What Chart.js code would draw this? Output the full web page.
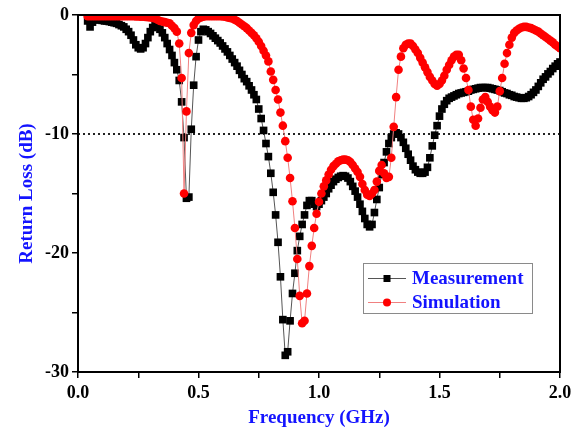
<!DOCTYPE html>
<html>
<head>
<meta charset="utf-8">
<script src="https://cdn.jsdelivr.net/npm/chart.js@4/dist/chart.umd.min.js"></script>
<style>
  html, body { margin: 0; padding: 0; background: #fff; }
  #wrap { width: 577px; height: 430px; }
</style>
</head>
<body>
<div id="wrap"><canvas id="c" width="577" height="430"></canvas></div>
<script>
// ---- data ----
const freqGHz = [
  0.04,0.05,0.06,0.07,0.08,0.09,
  0.10,0.11,0.12,0.13,0.14,0.15,0.16,0.17,0.18,0.19,
  0.20,0.21,0.22,0.23,0.24,0.25,0.26,0.27,0.28,0.29,
  0.30,0.31,0.32,0.33,0.34,0.35,0.36,0.37,0.38,0.39,
  0.40,0.41,0.42,0.43,0.44,0.45,0.46,0.47,0.48,0.49,
  0.50,0.51,0.52,0.53,0.54,0.55,0.56,0.57,0.58,0.59,
  0.60,0.61,0.62,0.63,0.64,0.65,0.66,0.67,0.68,0.69,
  0.70,0.71,0.72,0.73,0.74,0.75,0.76,0.77,0.78,0.79,
  0.80,0.81,0.82,0.83,0.84,0.85,0.86,0.87,0.88,0.89,
  0.90,0.91,0.92,0.93,0.94,0.95,0.96,0.97,0.98,0.99,
  1.00,1.01,1.02,1.03,1.04,1.05,1.06,1.07,1.08,1.09,
  1.10,1.11,1.12,1.13,1.14,1.15,1.16,1.17,1.18,1.19,
  1.20,1.21,1.22,1.23,1.24,1.25,1.26,1.27,1.28,1.29,
  1.30,1.31,1.32,1.33,1.34,1.35,1.36,1.37,1.38,1.39,
  1.40,1.41,1.42,1.43,1.44,1.45,1.46,1.47,1.48,1.49,
  1.50,1.51,1.52,1.53,1.54,1.55,1.56,1.57,1.58,1.59,
  1.60,1.61,1.62,1.63,1.64,1.65,1.66,1.67,1.68,1.69,
  1.70,1.71,1.72,1.73,1.74,1.75,1.76,1.77,1.78,1.79,
  1.80,1.81,1.82,1.83,1.84,1.85,1.86,1.87,1.88,1.89,
  1.90,1.91,1.92,1.93,1.94,1.95,1.96,1.97,1.98,1.99,
  2.00
];

const measurementDB = [
  -0.5,-1.0,-0.6,-0.4,-0.4,-0.4,
  -0.45,-0.5,-0.5,-0.55,-0.6,-0.65,-0.7,-0.8,-0.9,-1.0,
  -1.2,-1.4,-1.7,-2.1,-2.5,-2.75,-2.85,-2.75,-2.4,-1.9,
  -1.4,-1.05,-0.9,-0.95,-1.2,-1.5,-1.9,-2.4,-2.9,-3.4,
  -4.0,-4.6,-5.5,-7.3,-10.3,-15.4,-15.3,-9.6,-5.9,-3.5,
  -2.1,-1.4,-1.2,-1.25,-1.4,-1.55,-1.75,-1.95,-2.15,-2.35,
  -2.6,-2.85,-3.1,-3.4,-3.7,-4.0,-4.3,-4.65,-5.0,-5.35,
  -5.6,-5.95,-6.3,-6.7,-7.1,-7.9,-8.7,-9.7,-10.8,-11.9,
  -13.3,-14.9,-16.8,-19.1,-22.0,-25.6,-28.6,-28.3,-25.7,-23.4,
  -21.7,-19.8,-18.6,-17.6,-16.8,-16.0,-15.6,-15.6,-15.9,-16.1,
  -15.9,-15.6,-15.3,-15.0,-14.6,-14.3,-14.0,-13.8,-13.65,-13.55,
  -13.5,-13.55,-13.7,-14.0,-14.4,-14.8,-15.3,-15.9,-16.5,-17.1,
  -17.6,-17.8,-17.6,-16.6,-15.5,-14.5,-13.4,-12.4,-11.5,-10.8,
  -10.3,-10.0,-9.9,-10.0,-10.3,-10.7,-11.2,-11.7,-12.2,-12.7,
  -13.0,-13.2,-13.3,-13.3,-13.2,-12.8,-12.0,-11.0,-10.1,-9.3,
  -8.5,-7.9,-7.5,-7.2,-7.0,-6.9,-6.8,-6.7,-6.6,-6.55,
  -6.5,-6.45,-6.4,-6.3,-6.25,-6.2,-6.15,-6.1,-6.1,-6.1,
  -6.1,-6.15,-6.2,-6.25,-6.3,-6.35,-6.45,-6.55,-6.6,-6.7,
  -6.75,-6.85,-6.9,-6.95,-7.0,-7.0,-6.95,-6.85,-6.7,-6.5,
  -6.3,-6.0,-5.7,-5.4,-5.2,-4.95,-4.75,-4.5,-4.3,-4.1,
  -3.95
];

const simulationDB = [
  -0.1,-0.1,-0.1,-0.1,-0.1,-0.1,
  -0.1,-0.1,-0.1,-0.1,-0.1,-0.1,-0.1,-0.1,-0.1,-0.1,
  -0.1,-0.1,-0.1,-0.1,-0.12,-0.12,-0.14,-0.15,-0.16,-0.18,
  -0.2,-0.25,-0.3,-0.4,-0.5,-0.55,-0.6,-0.65,-0.7,-0.9,
  -1.1,-1.4,-2.4,-5.3,-15.0,-8.1,-3.2,-1.5,-0.85,-0.5,
  -0.3,-0.2,-0.15,-0.1,-0.1,-0.1,-0.1,-0.1,-0.1,-0.1,
  -0.12,-0.15,-0.2,-0.25,-0.3,-0.4,-0.5,-0.65,-0.8,-0.95,
  -1.1,-1.3,-1.5,-1.7,-1.95,-2.25,-2.6,-3.0,-3.4,-3.9,
  -4.75,-5.45,-6.3,-7.1,-8.2,-9.3,-10.6,-12.0,-13.7,-15.65,
  -17.9,-20.5,-23.6,-25.9,-25.7,-23.4,-21.1,-19.4,-17.9,-16.7,
  -15.7,-15.0,-14.4,-13.9,-13.4,-13.0,-12.7,-12.5,-12.3,-12.2,
  -12.15,-12.15,-12.2,-12.35,-12.6,-12.9,-13.2,-13.6,-14.2,-14.7,
  -15.1,-15.2,-15.0,-14.7,-14.0,-13.1,-12.6,-13.3,-13.7,-13.6,
  -12.0,-9.4,-6.9,-4.6,-3.5,-2.8,-2.5,-2.4,-2.4,-2.6,
  -2.9,-3.2,-3.6,-4.0,-4.4,-4.8,-5.2,-5.5,-5.8,-5.95,
  -5.8,-5.5,-5.1,-4.6,-4.2,-3.8,-3.5,-3.35,-3.35,-3.8,
  -4.5,-5.3,-6.3,-7.7,-8.8,-9.3,-8.7,-7.8,-7.1,-6.9,
  -7.3,-7.7,-8.0,-8.2,-7.7,-6.4,-5.3,-4.1,-3.2,-2.5,
  -1.9,-1.5,-1.3,-1.15,-1.05,-1.0,-1.0,-1.05,-1.1,-1.2,
  -1.3,-1.4,-1.55,-1.7,-1.85,-2.0,-2.15,-2.3,-2.5,-2.65,
  -2.8
];

const referenceLevelDB = -10;
const xRange = [0, 2];
const yRange = [-30, 0];
const seriesNames = ['Measurement', 'Simulation'];
const xTitle = 'Frequency (GHz)';
const yTitle = 'Return Loss (dB)';

// ---- styles ----
const BLUE = '#1414ff';
const SERIF = "'Liberation Serif', 'Times New Roman', serif";

const toXY = (ys) => freqGHz.map((f, i) => ({ x: f, y: ys[i] }));

const frameAndLegend = {
  id: 'frameAndLegend',
  afterDraw(chart) {
    const { ctx, chartArea: a } = chart;
    ctx.save();
    // frame
    ctx.strokeStyle = '#000';
    ctx.lineWidth = 2;
    ctx.strokeRect(a.left, a.top, a.right - a.left, a.bottom - a.top);
    // legend box
    const bx = a.left + 285, by = a.top + 248, bw = 169, bh = 50;
    ctx.fillStyle = '#fff';
    ctx.fillRect(bx, by, bw, bh);
    ctx.strokeStyle = '#8a8a8a';
    ctx.lineWidth = 1;
    ctx.strokeRect(bx + 0.5, by + 0.5, bw, bh);
    const rows = [
      { y: by + 15, line: '#555', draw: (x, y) => { ctx.fillStyle = '#000'; ctx.fillRect(x - 3.5, y - 3.5, 7, 7); } },
      { y: by + 39, line: '#f08080', draw: (x, y) => { ctx.fillStyle = '#ff0000'; ctx.beginPath(); ctx.arc(x, y, 4, 0, Math.PI * 2); ctx.fill(); } }
    ];
    rows.forEach((r, i) => {
      ctx.strokeStyle = r.line;
      ctx.lineWidth = 1;
      ctx.beginPath();
      ctx.moveTo(bx + 5, r.y + 0.5);
      ctx.lineTo(bx + 43, r.y + 0.5);
      ctx.stroke();
      r.draw(bx + 24, r.y + 0.5);
      ctx.fillStyle = BLUE;
      ctx.font = "bold 19px " + SERIF;
      ctx.textBaseline = 'middle';
      ctx.textAlign = 'left';
      ctx.fillText(seriesNames[i], bx + 49, r.y + 1);
    });
    ctx.restore();
  }
};

new Chart(document.getElementById('c'), {
  type: 'line',
  data: {
    datasets: [
      {
        label: seriesNames[1],
        data: toXY(simulationDB),
        order: 0,
        borderColor: '#f08080',
        borderWidth: 1,
        pointStyle: 'circle',
        pointRadius: 4.3,
        pointBackgroundColor: '#ff0000',
        pointBorderWidth: 0,
        tension: 0
      },
      {
        label: seriesNames[0],
        data: toXY(measurementDB),
        order: 1,
        borderColor: '#555',
        borderWidth: 1,
        pointStyle: 'rect',
        pointRadius: 5.4,
        pointBackgroundColor: '#000',
        pointBorderWidth: 0,
        tension: 0
      },
      {
        label: 'ref',
        data: [{ x: xRange[0], y: referenceLevelDB }, { x: xRange[1], y: referenceLevelDB }],
        order: 2,
        borderColor: '#222',
        borderWidth: 2,
        borderDash: [2, 3],
        pointRadius: 0
      }
    ]
  },
  options: {
    responsive: false,
    animation: false,
    devicePixelRatio: 1,
    layout: { padding: { left: 0, right: 17, top: 15, bottom: 0 } },
    plugins: { legend: { display: false }, tooltip: { enabled: false } },
    scales: {
      x: {
        type: 'linear',
        min: xRange[0], max: xRange[1],
        afterFit: (s) => { s.height = 58; },
        border: { display: true, color: '#000', width: 2 },
        grid: { drawOnChartArea: false, drawTicks: true, tickLength: 6, color: '#000', lineWidth: 1.5 },
        ticks: {
          stepSize: 0.25, autoSkip: false, maxRotation: 0, padding: 5,
          color: '#000',
          font: { family: SERIF, size: 18, weight: 'bold' },
          callback: (v) => (Math.abs(v * 2 - Math.round(v * 2)) < 1e-6 ? v.toFixed(1) : '')
        },
        title: { display: true, text: xTitle, color: BLUE, font: { family: SERIF, size: 19, weight: 'bold' }, padding: { bottom: 1, top: 0 } }
      },
      y: {
        min: yRange[0], max: yRange[1],
        afterFit: (s) => { s.width = 78; },
        border: { display: true, color: '#000', width: 2 },
        grid: { drawOnChartArea: false, drawTicks: true, tickLength: 6, color: '#000', lineWidth: 1.5 },
        ticks: {
          stepSize: 5, autoSkip: false, padding: 3,
          color: '#000',
          font: { family: SERIF, size: 18, weight: 'bold' },
          callback: (v) => (v % 10 === 0 ? String(v) : '')
        },
        title: { display: true, text: yTitle, color: BLUE, font: { family: SERIF, size: 19, weight: 'bold' }, padding: { top: 16, bottom: 0 } }
      }
    }
  },
  plugins: [frameAndLegend]
});
</script>
</body>
</html>
